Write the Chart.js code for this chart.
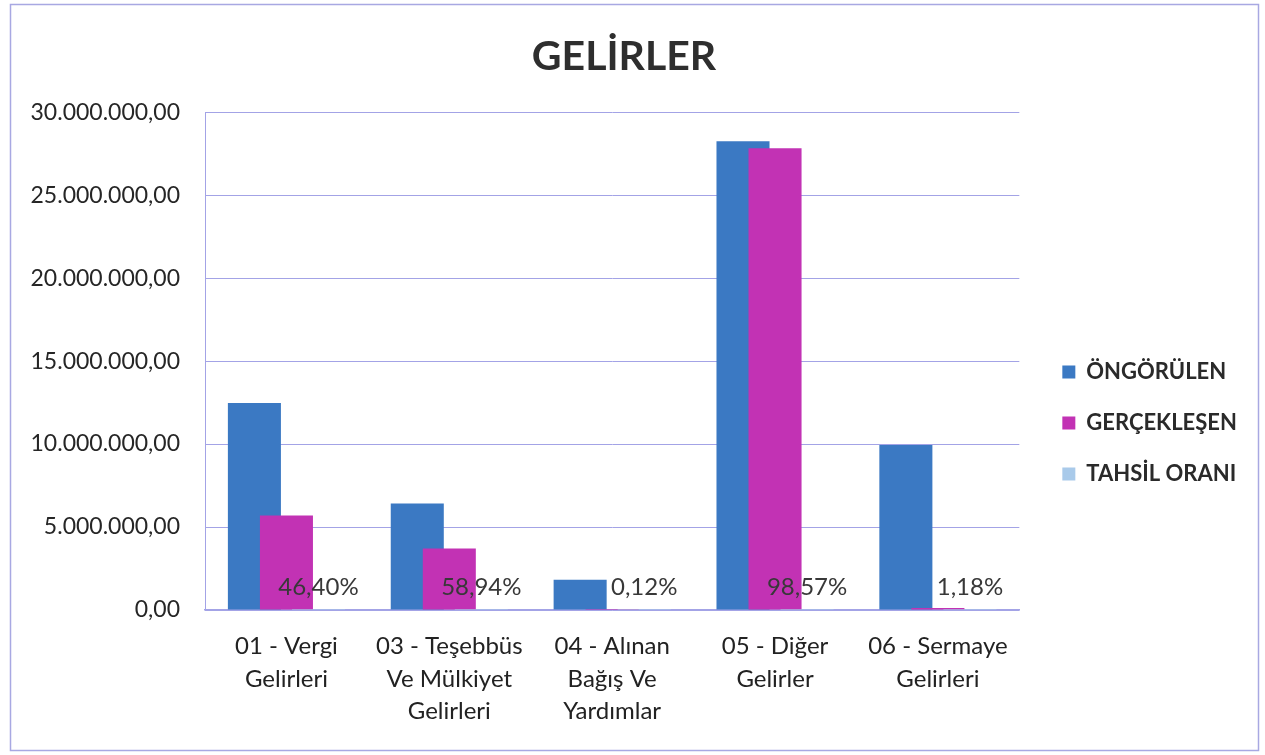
<!DOCTYPE html>
<html>
<head>
<meta charset="utf-8">
<script src="https://cdn.jsdelivr.net/npm/chart.js@4.4.1/dist/chart.umd.min.js"></script>
<style>
  html, body { margin: 0; padding: 0; background: #ffffff; }
  #wrap { width: 1265px; height: 755px; position: relative; }
</style>
</head>
<body>
<div id="wrap"><canvas id="c" width="1265" height="755"></canvas></div>
<script>
// ---- data ----
const categories = [
  ["01 - Vergi", "Gelirleri"],
  ["03 - Teşebbüs", "Ve Mülkiyet", "Gelirleri"],
  ["04 - Alınan", "Bağış Ve", "Yardımlar"],
  ["05 - Diğer", "Gelirler"],
  ["06 - Sermaye", "Gelirleri"]
];
const seriesNames = ["ÖNGÖRÜLEN", "GERÇEKLEŞEN", "TAHSİL ORANI"];
const ongorulen   = [12480000, 6420000, 1820000, 28250000, 9950000];
const gerceklesen = [5700000, 3700000, 2200, 27830000, 117000];
const tahsilOrani = [0.4640, 0.5894, 0.0012, 0.9857, 0.0118];
const yTickMin = 0, yTickMax = 30000000, yTickStep = 5000000;

// ---- helpers ----
function trNumber(v, decimals) {
  const fixed = Math.abs(v).toFixed(decimals);
  let [intPart, dec] = fixed.split(".");
  intPart = intPart.replace(/\B(?=(\d{3})+(?!\d))/g, ".");
  return (v < 0 ? "-" : "") + intPart + (dec ? "," + dec : "");
}
function trPercent(v) { return trNumber(v * 100, 2) + "%"; }

const FONT = "Lato, 'Open Sans', sans-serif";
const GRID = "#a3a3e6";

// draw datasets in forward order (later series on top), then labels
const forwardDraw = {
  id: "forwardDraw",
  beforeDatasetsDraw(chart) {
    const metas = chart.getSortedVisibleDatasetMetas();
    for (const meta of metas) meta.controller.draw();
    return false;
  },
  afterDraw(chart) {
    const ctx = chart.ctx;
    const meta = chart.getDatasetMeta(2);
    const base = chart.scales.y.getPixelForValue(0);
    ctx.save();
    ctx.font = "24px " + FONT;
    ctx.fillStyle = "#383838";
    ctx.textAlign = "center";
    ctx.textBaseline = "middle";
    meta.data.forEach((el, i) => {
      ctx.fillText(trPercent(tahsilOrani[i]), el.x, base - 23);
    });
    ctx.restore();
  }
};
const frame = {
  id: "frame",
  beforeDraw(chart) {
    const ctx = chart.ctx;
    ctx.save();
    ctx.fillStyle = "#ffffff";
    ctx.fillRect(0, 0, chart.width, chart.height);
    ctx.strokeStyle = "#a8a8e2";
    ctx.lineWidth = 1.5;
    ctx.strokeRect(10.5, 4.5, 1248, 746);
    ctx.restore();
  }
};

new Chart(document.getElementById("c"), {
  type: "bar",
  data: {
    labels: categories,
    datasets: [
      { label: seriesNames[0], data: ongorulen, backgroundColor: "#3b79c3", borderWidth: 0 },
      { label: seriesNames[1], data: gerceklesen, backgroundColor: "#c232b4", borderWidth: 0 },
      { label: seriesNames[2], data: tahsilOrani, backgroundColor: "#a9caea", borderWidth: 0 }
    ]
  },
  options: {
    responsive: false,
    animation: false,
    events: [],
    datasets: { bar: { categoryPercentage: 0.59, barPercentage: 1.656 } },
    layout: { padding: { left: 10, right: 27, top: 12, bottom: 0 } },
    plugins: {
      title: {
        display: true,
        text: "GELİRLER",
        color: "#2e2e2e",
        font: { family: FONT, size: 41, weight: "bold", lineHeight: 1.2 },
        padding: { top: 20, bottom: 31 }
      },
      legend: {
        display: true,
        position: "right",
        title: { display: true, text: " ", font: { size: 10, lineHeight: 1.2 }, padding: { top: 33, bottom: 34 } },
        labels: {
          boxWidth: 13, boxHeight: 13,
          padding: 29,
          color: "#2a2a2a",
          font: { family: FONT, size: 22, weight: "bold" }
        }
      },
      tooltip: { enabled: false }
    },
    scales: {
      x: {
        grid: { display: false, drawTicks: false },
        border: { display: true, color: GRID, width: 1.5 },
        ticks: { color: "#222222", font: { family: FONT, size: 24, lineHeight: 1.36 }, padding: 20, maxRotation: 0, autoSkip: false },
        afterFit(s) { s.height = 145; }
      },
      y: {
        min: yTickMin, max: yTickMax,
        grid: { color: GRID, lineWidth: 1, drawTicks: false },
        border: { display: true, color: GRID, width: 1 },
        ticks: {
          stepSize: yTickStep,
          color: "#262626",
          padding: 25,
          font: { family: FONT, size: 23 },
          callback: (v) => trNumber(v, 2)
        },
        afterFit(s) { s.width = 195; }
      },
      gap: {
        type: "linear",
        position: "right",
        display: true,
        grid: { display: false, drawTicks: false },
        border: { display: false },
        ticks: { display: false },
        afterFit(s) { s.width = 14; }
      }
    }
  },
  plugins: [frame, forwardDraw]
});
</script>
</body>
</html>
